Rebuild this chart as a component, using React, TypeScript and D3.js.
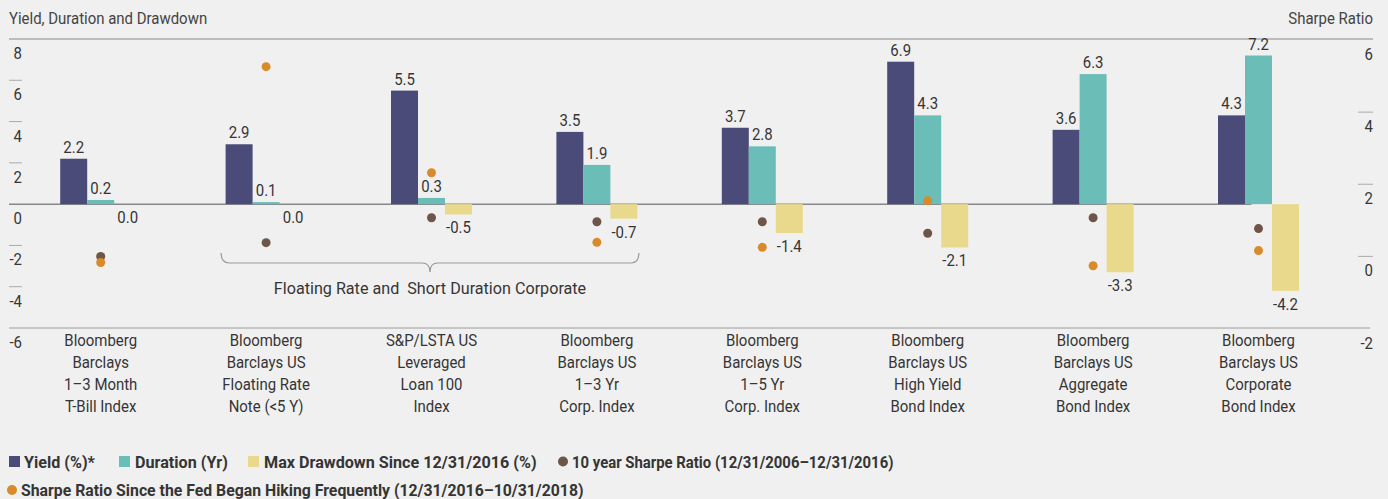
import React from "react";
import * as d3 from "d3";

const categories: string[][] = [
  ["Bloomberg", "Barclays", "1–3 Month", "T-Bill Index"],
  ["Bloomberg", "Barclays US", "Floating Rate", "Note (<5 Y)"],
  ["S&P/LSTA US", "Leveraged", "Loan 100", "Index"],
  ["Bloomberg", "Barclays US", "1–3 Yr", "Corp. Index"],
  ["Bloomberg", "Barclays US", "1–5 Yr", "Corp. Index"],
  ["Bloomberg", "Barclays US", "High Yield", "Bond Index"],
  ["Bloomberg", "Barclays US", "Aggregate", "Bond Index"],
  ["Bloomberg", "Barclays US", "Corporate", "Bond Index"],
];
const yieldVals = [2.2, 2.9, 5.5, 3.5, 3.7, 6.9, 3.6, 4.3];
const durationVals = [0.2, 0.1, 0.3, 1.9, 2.8, 4.3, 6.3, 7.2];
const drawdownVals = [0.0, 0.0, -0.5, -0.7, -1.4, -2.1, -3.3, -4.2];
const sharpe10y = [0.0, 0.38, 1.07, 0.96, 0.96, 0.64, 1.07, 0.77];
const sharpeFed = [-0.17, 5.26, 2.32, 0.39, 0.25, 1.54, -0.26, 0.16];
const leftTicks = [8, 6, 4, 2, 0, -2, -4, -6];
const rightTicks = [6, 4, 2, 0, -2];

const seriesKeys = ["yield", "duration", "drawdown"];
const seriesColors: Record<string, string> = {
  yield: "#4a4b78",
  duration: "#6bbdb8",
  drawdown: "#e9d98c",
};
const brown = "#6d5649";
const orange = "#d98a2a";
const textColor = "#353535";
const FONT = "Roboto, 'Liberation Sans', sans-serif";
const SX = 0.88;
const SX_BOLD = 0.95;

function T(props: {
  x: number;
  y: number;
  anchor?: "start" | "middle" | "end";
  size?: number;
  bold?: boolean;
  fill?: string;
  sx?: number;
  children: React.ReactNode;
}) {
  const { x, y, anchor = "start", size = 17, bold = false, fill = textColor, children } = props;
  const sx = props.sx ?? (bold ? SX_BOLD : SX);
  return (
    <text
      transform={`translate(${x},${y}) scale(${sx},1)`}
      textAnchor={anchor}
      fontSize={size}
      fontWeight={bold ? "bold" : "normal"}
      fill={fill}
      style={{ whiteSpace: "pre" }}
    >
      {children}
    </text>
  );
}

export default function App() {
  const W = 1388;
  const H = 499;
  const yL = d3.scaleLinear().domain([-6, 8]).range([328, 39]);
  const yR = d3.scaleLinear().domain([-2, 6]).range([328.5, 40]);
  const idx = categories.map((_, i) => String(i));
  const x = d3.scaleBand().domain(idx).range([18, 1341.2]).padding(0);
  const xs = d3.scaleBand().domain(seriesKeys).range([-40.5, 40.5]).padding(0);
  const cx = (i: number) => (x(String(i)) as number) + x.bandwidth() / 2;
  const seriesData: Record<string, number[]> = {
    yield: yieldVals,
    duration: durationVals,
    drawdown: drawdownVals,
  };

  const braceL = cx(1) - 45;
  const braceR = cx(3) + 42;
  const braceM = (braceL + braceR) / 2;
  const by0 = 253, by1 = 263, by2 = 272;
  const bracePath = `M${braceL},${by0} Q${braceL},${by1} ${braceL + 8},${by1} L${braceM - 8},${by1} Q${braceM},${by1} ${braceM},${by2} Q${braceM},${by1} ${braceM + 8},${by1} L${braceR - 8},${by1} Q${braceR},${by1} ${braceR},${by0}`;

  return (
    <svg
      width={W}
      height={H}
      style={{ position: "absolute", left: 0, top: 0, fontFamily: FONT }}
    >
      <rect x={0} y={0} width={W} height={H} fill="#f0f0f0" />
      {/* titles */}
      <T x={9} y={24} fill="#444">Yield, Duration and Drawdown</T>
      <T x={1373} y={24} fill="#444" anchor="end">Sharpe Ratio</T>

      {/* frame lines */}
      <line x1={9} x2={1373} y1={yL(8)} y2={yL(8)} stroke="#888" strokeWidth={1.2} />
      <line x1={9} x2={1370} y1={yL(-6)} y2={yL(-6)} stroke="#999" strokeWidth={1.2} />

      {/* left ticks */}
      {leftTicks.map((t) => (
        <g key={"l" + t}>
          {t !== 8 && t !== 0 && t !== -6 && (
            <line x1={9} x2={22} y1={yL(t)} y2={yL(t)} stroke="#aaa" strokeWidth={1} />
          )}
          <T x={22} y={yL(t) + 20} anchor="end">{String(t)}</T>
        </g>
      ))}
      {/* right ticks */}
      {rightTicks.map((t) => (
        <g key={"r" + t}>
          {t !== 6 && t !== -2 && (
            <line x1={1358} x2={1373} y1={yR(t)} y2={yR(t)} stroke="#aaa" strokeWidth={1} />
          )}
          <T x={1373} y={yR(t) + 20} anchor="end">{String(t)}</T>
        </g>
      ))}

      {/* zero line */}
      <line x1={9} x2={cx(7) - 7} y1={yL(0)} y2={yL(0)} stroke="#888" strokeWidth={1.5} />

      {/* bars */}
      {seriesKeys.map((k) =>
        seriesData[k].map((v, i) => {
          const bx = cx(i) + (xs(k) as number);
          const y0 = yL(Math.max(0, v));
          const h = Math.abs(yL(v) - yL(0));
          return (
            <rect
              key={k + i}
              x={bx}
              y={y0}
              width={xs.bandwidth()}
              height={h}
              fill={seriesColors[k]}
            />
          );
        })
      )}

      {/* value labels */}
      {seriesKeys.map((k) =>
        seriesData[k].map((v, i) => {
          const lx = cx(i) + (xs(k) as number) + xs.bandwidth() / 2;
          const ly = v > 0 ? yL(v) - 6 : yL(v) + 19;
          return (
            <T key={"t" + k + i} x={lx} y={ly} anchor="middle">
              {v.toFixed(1)}
            </T>
          );
        })
      )}

      {/* dots */}
      {sharpe10y.map((v, i) => (
        <circle key={"b" + i} cx={cx(i)} cy={yR(v)} r={4.5} fill={brown} />
      ))}
      {sharpeFed.map((v, i) => (
        <circle key={"o" + i} cx={cx(i)} cy={yR(v)} r={4.5} fill={orange} />
      ))}

      {/* brace */}
      <path d={bracePath} fill="none" stroke="#999" strokeWidth={1.2} />
      <T x={braceM} y={294} anchor="middle" sx={0.95}>{"Floating Rate and  Short Duration Corporate"}</T>

      {/* category labels */}
      {categories.map((lines, i) =>
        lines.map((ln, j) => (
          <T key={"c" + i + "_" + j} x={cx(i)} y={346 + j * 22} anchor="middle">
            {ln}
          </T>
        ))
      )}

      {/* legend */}
      <rect x={9} y={456} width={11} height={11} fill={seriesColors.yield} />
      <T x={24} y={468} bold>Yield (%)*</T>
      <rect x={119} y={456} width={11} height={11} fill={seriesColors.duration} />
      <T x={135} y={468} bold>Duration (Yr)</T>
      <rect x={248} y={456} width={11} height={11} fill={seriesColors.drawdown} />
      <T x={264} y={468} bold>Max Drawdown Since 12/31/2016 (%)</T>
      <circle cx={563} cy={461.5} r={5} fill={brown} />
      <T x={572} y={468} bold sx={0.876}>10 year Sharpe Ratio (12/31/2006–12/31/2016)</T>
      <circle cx={12} cy={490} r={5} fill={orange} />
      <T x={21} y={496} bold sx={0.93}>Sharpe Ratio Since the Fed Began Hiking Frequently (12/31/2016–10/31/2018)</T>
    </svg>
  );
}
